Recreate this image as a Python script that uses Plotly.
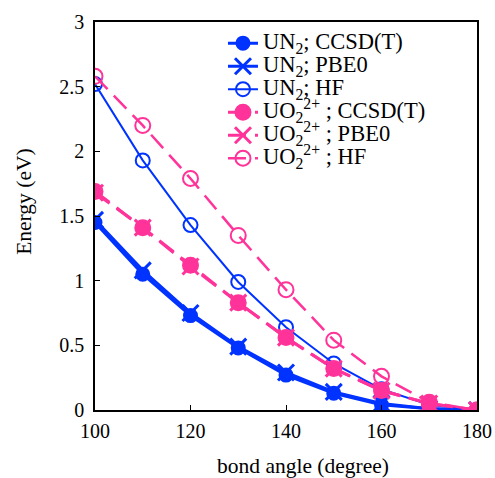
import plotly.graph_objects as go

angles = [100, 110, 120, 130, 140, 150, 160, 170, 180]
un2_ccsdt = [1.45, 1.05, 0.73, 0.48, 0.27, 0.13, 0.04, 0.01, 0.0]
un2_pbe0 = [1.47, 1.08, 0.75, 0.49, 0.29, 0.14, 0.05, 0.01, 0.0]
un2_hf = [2.52, 1.93, 1.43, 0.99, 0.64, 0.36, 0.16, 0.04, 0.0]
uo2_ccsdt = [1.69, 1.41, 1.12, 0.83, 0.56, 0.32, 0.15, 0.05, 0.0]
uo2_pbe0 = [1.68, 1.41, 1.11, 0.83, 0.56, 0.32, 0.15, 0.05, 0.0]
uo2_hf = [2.58, 2.20, 1.79, 1.35, 0.93, 0.54, 0.26, 0.06, 0.0]

names = [
    "UN<sub>2</sub>; CCSD(T)",
    "UN<sub>2</sub>; PBE0",
    "UN<sub>2</sub>; HF",
    "UO<sub>2</sub><sup>2+</sup> ; CCSD(T)",
    "UO<sub>2</sub><sup>2+</sup> ; PBE0",
    "UO<sub>2</sub><sup>2+</sup> ; HF",
]
values = [un2_ccsdt, un2_pbe0, un2_hf, uo2_ccsdt, uo2_pbe0, uo2_hf]
x_title = "bond angle (degree)"
y_title = "Energy (eV)"

BLUE = "#0033ff"
PINK = "#ff3399"
colors = [BLUE, BLUE, BLUE, PINK, PINK, PINK]
dashes = ["solid", "solid", "solid", "18px,9px", "18px,9px", "18px,9px"]
symbols = ["circle", "x-thin-open", "circle-open", "circle", "x-thin-open", "circle-open"]
sizes = [13, 16, 14, 15, 16, 15]
linewidths = [3, 3, 2, 3, 3, 2.5]

fig = go.Figure()
for name, ys, col, dash, sym, size, lw in zip(names, values, colors, dashes, symbols, sizes, linewidths):
    fig.add_trace(go.Scatter(
        x=angles, y=ys, mode="lines+markers",
        name='<span style="font-size:22.5px">' + name + "</span>",
        line=dict(color=col, width=lw, dash=dash),
        marker=dict(symbol=sym, size=size, color=col,
                    line=dict(color=col, width=3 if "x" in sym else 2)),
    ))

font = "Liberation Serif, Times New Roman, serif"
fig.update_layout(
    template="none",
    width=495, height=478,
    margin=dict(l=95, r=18, t=22, b=68, autoexpand=False),
    plot_bgcolor="white", paper_bgcolor="white",
    font=dict(family=font, size=20, color="black"),
    showlegend=True,
    legend=dict(x=0.335, y=0.988, xanchor="left", yanchor="top",
                bgcolor="rgba(0,0,0,0)", font=dict(family=font, size=15.4),
                tracegroupgap=0, itemwidth=30),
    xaxis=dict(range=[100, 180], tickvals=[100, 120, 140, 160, 180], automargin=False,
               showline=True, linecolor="black", linewidth=1.5, mirror=True,
               ticks="inside", ticklen=5, tickcolor="black", showgrid=False, zeroline=False,
               ticklabelstandoff=2),
    yaxis=dict(range=[0, 3], tickvals=[0, 0.5, 1, 1.5, 2, 2.5, 3], automargin=False,
               ticktext=["0", "0.5", "1", "1.5", "2", "2.5", "3"],
               showline=True, linecolor="black", linewidth=1.5, mirror=True,
               ticks="inside", ticklen=5, tickcolor="black", showgrid=False, zeroline=False,
               ticklabelstandoff=5),
    annotations=[
        dict(text=x_title, xref="paper", yref="paper", x=0.545, y=-0.144,
             xanchor="center", yanchor="middle", showarrow=False,
             font=dict(family=font, size=21.5)),
        dict(text=y_title, xref="paper", yref="paper", x=-0.188, y=0.537,
             xanchor="center", yanchor="middle", showarrow=False, textangle=-90,
             font=dict(family=font, size=21.5)),
    ],
)
fig.write_html(
    "out.html",
    config={"displayModeBar": False},
    post_script="document.body.style.margin='0';document.body.style.overflow='hidden';"
                "document.documentElement.style.overflow='hidden';",
)
